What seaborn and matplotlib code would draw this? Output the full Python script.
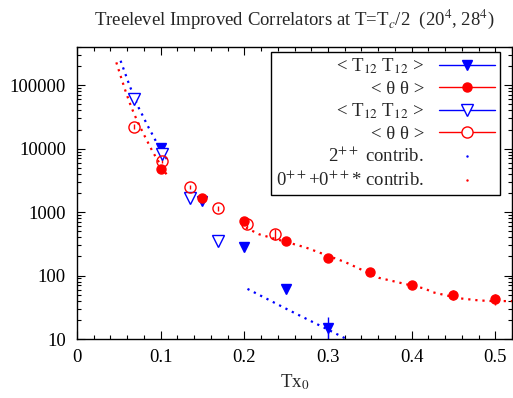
import numpy as np
import matplotlib
matplotlib.use("Agg")
import matplotlib.pyplot as plt
from matplotlib.lines import Line2D
from matplotlib.ticker import FuncFormatter, MultipleLocator, LogLocator
import seaborn as sns

sns.set_theme(style="ticks")
plt.rcParams['font.family'] = ['Liberation Serif', 'DejaVu Serif']
plt.rcParams['mathtext.fontset'] = 'stix'

# --- data ---
# 20^4 lattice, filled symbols
x_t12_20 = [0.10, 0.15, 0.20, 0.25, 0.30]
y_t12_20 = [10400, 1520, 280, 62, 15]
e_t12_20 = [300, 60, 10, 3, 7]

x_th_20 = [0.10, 0.15, 0.20, 0.25, 0.30, 0.35, 0.40, 0.45, 0.50]
y_th_20 = [4800, 1670, 725, 352, 189, 113, 70, 50, 43]
e_th_20 = [150, 50, 20, 10, 5, 4, 4, 9, 9]

# 28^4 lattice, open symbols
x_t12_28 = [0.0676, 0.1014, 0.1352, 0.169]
y_t12_28 = [60000, 8130, 1640, 352]
e_t12_28 = [5000, 500, 100, 40]

x_th_28 = [0.0676, 0.1014, 0.1352, 0.169, 0.2028, 0.2366]
y_th_28 = [22100, 6470, 2480, 1150, 656, 447]
e_th_28 = [2000, 600, 200, 100, 80, 90]

# contribution curves (dotted)
x_2pp_a = [0.0521, 0.0577, 0.0628, 0.0731, 0.0787, 0.0839, 0.0890, 0.0942, 0.1097]
y_2pp_a = [243000, 152000, 99000, 45800, 32800, 23700, 17800, 13200, 6100]
x_2pp_b = [0.2038, 0.2535, 0.2932, 0.3190, 0.3300]
y_2pp_b = [61.6, 28.4, 15.6, 10.5, 9.0]

x_0pp_a = [0.0470, 0.0525, 0.0577, 0.0628, 0.0680, 0.0731, 0.0787, 0.0839, 0.0890, 0.0946, 0.1049, 0.1097]
y_0pp_a = [229000, 135000, 83000, 53500, 36000, 25500, 18000, 13200, 9750, 7200, 4360, 3440]
x_0pp_b = [0.2019, 0.2177, 0.2734, 0.3210, 0.3610, 0.4164, 0.4240, 0.4560, 0.4800, 0.4960, 0.5200]
y_0pp_b = [569, 447, 277, 162, 92, 62, 55, 44, 40.6, 39.6, 39.6]

labels = ['< T$_{12}$ T$_{12}$ >', '< \u03b8 \u03b8 >', '< T$_{12}$ T$_{12}$ >', '< \u03b8 \u03b8 >',
          '2$^{++}$ contrib.', '0$^{++}$+0$^{++}$* contrib.']

FS = 13.5

fig = plt.figure(figsize=(5.13, 3.98), dpi=100)
ax = fig.add_axes([77 / 513, 59 / 398, 435 / 513, 292 / 398])

dots = (0, (1, 2.2))
for xs, ys, c in [(x_2pp_a, y_2pp_a, 'blue'), (x_2pp_b, y_2pp_b, 'blue'),
                  (x_0pp_a, y_0pp_a, 'red'), (x_0pp_b, y_0pp_b, 'red')]:
    sns.lineplot(x=xs, y=ys, color=c, sort=False, estimator=None, ax=ax,
                 linestyle=dots, linewidth=1.6)

ax.errorbar(x_t12_20, y_t12_20, yerr=e_t12_20, fmt='v', color='blue', ms=7, elinewidth=1, capsize=0)
ax.errorbar(x_th_20, y_th_20, yerr=e_th_20, fmt='o', color='red', ms=6.5, elinewidth=1, capsize=0)
ax.errorbar(x_t12_28, y_t12_28, yerr=e_t12_28, fmt='v', color='blue', mfc='white', ms=8,
            mew=1, elinewidth=1, capsize=0)
ax.errorbar(x_th_28, y_th_28, yerr=e_th_28, fmt='o', color='red', mfc='none', ms=8,
            mew=1, elinewidth=1, capsize=0)

ax.set_yscale('log')
ax.set_xlim(0, 0.52)
ax.set_ylim(10, 4e5)
ax.xaxis.set_major_locator(MultipleLocator(0.1))
ax.xaxis.set_minor_locator(MultipleLocator(0.02))
ax.yaxis.set_major_locator(LogLocator(base=10))
ax.yaxis.set_minor_locator(LogLocator(base=10, subs=np.arange(2, 10)))
ax.xaxis.set_major_formatter(FuncFormatter(lambda v, p: f"{v:g}"))
ax.yaxis.set_major_formatter(FuncFormatter(lambda v, p: f"{v:g}"))
ax.yaxis.set_minor_formatter(FuncFormatter(lambda v, p: ""))
ax.tick_params(which='both', direction='in', top=True, right=True, colors='black',
               labelsize=FS, width=0.8)
ax.tick_params(which='major', length=6)
ax.tick_params(which='minor', length=3)
ax.tick_params(axis='x', pad=7)
ax.tick_params(axis='y', pad=8)
for s in ax.spines.values():
    s.set_color('black')
    s.set_linewidth(1)

ax.set_xlabel('Tx$_0$', fontsize=FS, labelpad=5)
ax.set_title('Treelevel Improved Correlators at T=T$_c$/2  (20$^4$, 28$^4$)', fontsize=FS, pad=16)

handles = [
    Line2D([], [], color='blue', marker='v', ms=7, lw=1),
    Line2D([], [], color='red', marker='o', ms=6.5, lw=1),
    Line2D([], [], color='blue', marker='v', mfc='white', ms=8, lw=1),
    Line2D([], [], color='red', marker='o', mfc='white', ms=8, lw=1),
    Line2D([], [], color='blue', marker='.', ms=1.5, ls='none'),
    Line2D([], [], color='red', marker='.', ms=1.5, ls='none'),
]
leg = ax.legend(handles, labels, loc='upper right', bbox_to_anchor=(0.972, 0.983),
                borderaxespad=0, markerfirst=False, fontsize=FS, frameon=True, fancybox=False,
                edgecolor='black', framealpha=1, handlelength=3.0, labelspacing=0.22,
                borderpad=0.25, handletextpad=0.8)
leg.get_frame().set_linewidth(1)
for t in leg.get_texts():
    t.set_ha('right')
leg._legend_box.align = 'right'

fig.savefig('out.png', dpi=100)
